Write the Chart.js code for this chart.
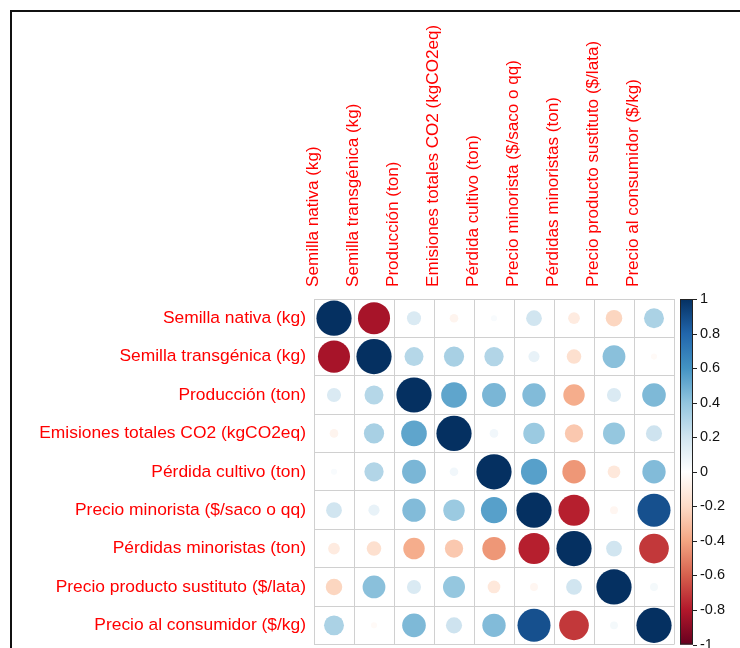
<!DOCTYPE html>
<html>
<head>
<meta charset="utf-8">
<script src="https://cdn.jsdelivr.net/npm/chart.js@4/dist/chart.umd.min.js"></script>
<style>
  html, body { margin: 0; padding: 0; overflow: hidden; background: #fff; }
  #wrap { width: 740px; height: 663px; }
</style>
</head>
<body>
<div id="wrap"><canvas id="corr" width="740" height="663"></canvas></div>
<script>
// Variables of the correlation matrix (rows and columns share the same order)
const variables = [
  'Semilla nativa (kg)',
  'Semilla transgénica (kg)',
  'Producción (ton)',
  'Emisiones totales CO2 (kgCO2eq)',
  'Pérdida cultivo (ton)',
  'Precio minorista ($/saco o qq)',
  'Pérdidas minoristas (ton)',
  'Precio producto sustituto ($/lata)',
  'Precio al consumidor ($/kg)'
];

// Pearson correlations, one row per variable
const rowSemillaNativa      = [ 1.00, -0.83,  0.16, -0.06,  0.03,  0.20, -0.11, -0.22,  0.32];
const rowSemillaTransgenica = [-0.83,  1.00,  0.29,  0.33,  0.30,  0.10, -0.17,  0.42, -0.03];
const rowProduccion         = [ 0.16,  0.29,  1.00,  0.53,  0.46,  0.44, -0.37,  0.16,  0.45];
const rowEmisiones          = [-0.06,  0.33,  0.53,  1.00,  0.06,  0.37, -0.27,  0.39,  0.21];
const rowPerdidaCultivo     = [ 0.03,  0.30,  0.46,  0.06,  1.00,  0.55, -0.44, -0.13,  0.44];
const rowPrecioMinorista    = [ 0.20,  0.10,  0.44,  0.37,  0.55,  1.00, -0.78, -0.05,  0.88];
const rowPerdidasMinoristas = [-0.11, -0.17, -0.37, -0.27, -0.44, -0.78,  1.00,  0.20, -0.71];
const rowPrecioSustituto    = [-0.22,  0.42,  0.16,  0.39, -0.13, -0.05,  0.20,  1.00,  0.05];
const rowPrecioConsumidor   = [ 0.32, -0.03,  0.45,  0.21,  0.44,  0.88, -0.71,  0.05,  1.00];

// Colour legend tick values
const colorbarTicks = [1, 0.8, 0.6, 0.4, 0.2, 0, -0.2, -0.4, -0.6, -0.8, -1];

const corrRows = [
  rowSemillaNativa, rowSemillaTransgenica, rowProduccion, rowEmisiones,
  rowPerdidaCultivo, rowPrecioMinorista, rowPerdidasMinoristas,
  rowPrecioSustituto, rowPrecioConsumidor
];

// Diverging red-white-blue palette, from -1 to 1 in steps of 0.2
const rdBu = ['#67001F', '#B2182B', '#D6604D', '#F4A582', '#FDDBC7', '#FFFFFF',
              '#D1E5F0', '#92C5DE', '#4393C3', '#2166AC', '#053061'];

function hexToRgb(h) {
  const n = parseInt(h.slice(1), 16);
  return [(n >> 16) & 255, (n >> 8) & 255, n & 255];
}
function colorFor(v) {
  const t = Math.max(0, Math.min(1, (v + 1) / 2)) * (rdBu.length - 1);
  const i = Math.min(Math.floor(t), rdBu.length - 2);
  const f = t - i;
  const a = hexToRgb(rdBu[i]), b = hexToRgb(rdBu[i + 1]);
  const c = a.map((x, k) => Math.round(x + (b[k] - x) * f));
  return `rgb(${c[0]},${c[1]},${c[2]})`;
}

const points = [];
corrRows.forEach((row, i) => {
  row.forEach((v, j) => points.push({ x: variables[j], y: variables[i], v }));
});

const FONT = "'Liberation Sans', Arial, sans-serif";
const GRID = '#d0d0d0';

// Cell width in pixels, taken from the chart area once the layout exists
function cellWidth(chart) {
  const a = chart.chartArea;
  if (!a) return 40;
  return (a.right - a.left) / variables.length;
}

// Frame around the figure and the colour legend next to the matrix
const decorations = {
  id: 'decorations',
  afterDraw(chart) {
    const ctx = chart.ctx;
    const s = chart.scales.yBar;
    const top = s.getPixelForValue(1);
    const bottom = s.getPixelForValue(-1);
    const x0 = chart.chartArea.right + 6;
    const w = 13;
    const g = ctx.createLinearGradient(0, top, 0, bottom);
    rdBu.slice().reverse().forEach((c, i) => g.addColorStop(i / (rdBu.length - 1), c));
    ctx.save();
    ctx.fillStyle = g;
    ctx.fillRect(x0, top, w, bottom - top);
    ctx.strokeStyle = '#222';
    ctx.lineWidth = 1;
    ctx.strokeRect(x0 + 0.5, top + 0.5, w - 1, bottom - top - 1);
    s.ticks.forEach(t => {
      const y = Math.round(s.getPixelForValue(t.value)) + 0.5;
      ctx.beginPath();
      ctx.moveTo(x0 + w, y);
      ctx.lineTo(x0 + w + 4, y);
      ctx.stroke();
    });
    ctx.fillStyle = '#111';
    ctx.fillRect(10, 10, 2, chart.height);
    ctx.fillRect(10, 10, chart.width, 2);
    ctx.restore();
  }
};

new Chart(document.getElementById('corr'), {
  type: 'bubble',
  data: {
    datasets: [{
      data: points,
      backgroundColor: c => colorFor(c.raw ? c.raw.v : 0),
      borderColor: c => colorFor(c.raw ? c.raw.v : 0),
      borderWidth: 0,
      radius: c => {
        const v = c.raw ? c.raw.v : 0;
        return 0.44 * Math.sqrt(Math.abs(v)) * cellWidth(c.chart);
      }
    }]
  },
  options: {
    responsive: false,
    animation: false,
    events: [],
    layout: { autoPadding: false, padding: { top: 0, left: 0, right: 0, bottom: 18 } },
    plugins: { legend: { display: false }, tooltip: { enabled: false } },
    scales: {
      x: {
        type: 'category',
        labels: variables,
        position: 'top',
        offset: true,
        grid: { offset: true, color: GRID, drawTicks: false },
        border: { color: GRID },
        ticks: {
          color: '#ff0000',
          font: { family: FONT, size: 17.1 },
          minRotation: 90, maxRotation: 90,
          autoSkip: false,
          padding: 12
        },
        afterFit: s => { s.height = 299; }
      },
      y: {
        type: 'category',
        labels: variables,
        position: 'left',
        offset: true,
        grid: { offset: true, color: GRID, drawTicks: false },
        border: { color: GRID },
        ticks: {
          color: '#ff0000',
          font: { family: FONT, size: 17.4 },
          autoSkip: false,
          padding: 8
        },
        afterFit: s => { s.width = 314; }
      },
      yBar: {
        type: 'linear',
        position: 'right',
        min: -1, max: 1,
        grid: { display: false, drawTicks: true, tickLength: 20 },
        border: { display: false },
        ticks: {
          color: '#111',
          font: { family: FONT, size: 14.5 },
          padding: 6,
          autoSkip: false,
          callback: v => String(Math.round(v * 10) / 10)
        },
        afterBuildTicks: s => { s.ticks = colorbarTicks.map(v => ({ value: v })); },
        afterFit: s => { s.width = 66; }
      }
    }
  },
  plugins: [decorations]
});
</script>
</body>
</html>
